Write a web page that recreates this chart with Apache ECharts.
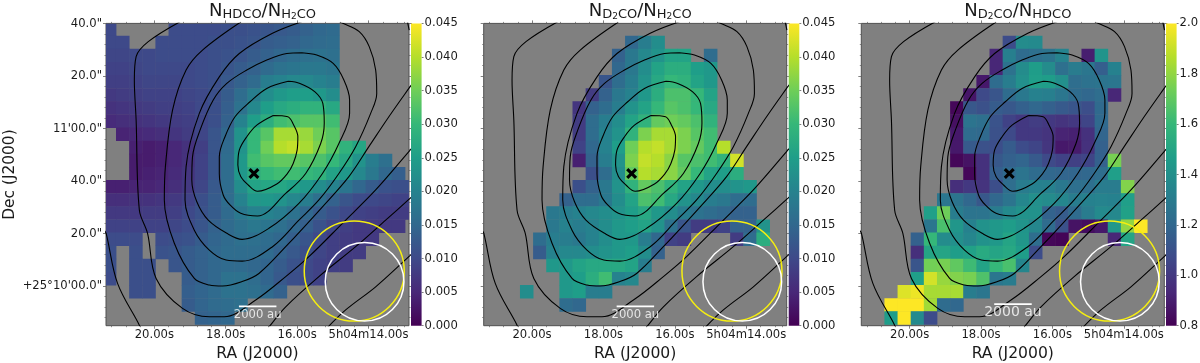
<!DOCTYPE html>
<html>
<head>
<meta charset="utf-8">
<style>html,body{margin:0;padding:0;background:#fff}#c{width:1200px;height:363px;filter:blur(0.35px)}</style>
<script src="https://cdn.jsdelivr.net/npm/echarts@6/dist/echarts.min.js"></script>
</head>
<body>
<div id="c"></div>
<script>
const _ = null;
const g = n => Array(n).fill(null);

// Column density ratios, row by row from the top of the map (first two in units of 1e-3)
const hdcoOverH2co = [
 [10,_,_,_,_,10.5,10.5,10.5,10.5,11,11,11.5,12,12.5,13,14,15,15.5],
 [10,10,_,_,10.5,10.5,10.5,10.5,11,11,11.5,12,13,13.5,14,15,15.5,16],
 [9.5,9.5,10,10,10.5,10.5,10.5,10.5,11,11.5,12,13,14,15,16,16.5,17,16.5],
 [9,9,9.5,10,10,10,10,10.5,11,12,13,14,15.5,17,17.5,18,18,17.5],
 [8.5,8.5,9,9.5,9.5,9.5,10,10.5,11,12.5,14,15.5,19,20,21,21,20,19],
 [7.5,8,8.5,9,9,9,9.5,10,11,13,16,19,22,24,25,25,24,22],
 [6.5,7,7.5,8,8.5,8.5,9,10,11,13.5,17,21,25,27,28,29,29,27],
 [5.5,6,6.5,7,7.5,8,8.5,9.5,11,14,20,25,28,31,32,33,33,31],
 [_,4.5,5,5.5,6,7,8,9.5,12,15,23,30,33,39,39,38,35,33],
 [_,_,4,3.5,4,5,6.5,8.5,12,15.5,23,30,35,40,41,39,36,33,29,26.5],
 [_,_,3.5,3.5,4,5,6.5,9,12,16,24,31,33,34,34,33,32,30,27,23,19,16.5],
 [_,_,3.5,4,4.5,5.5,7,9,12,16,24,28,30,31,31,30,29,26,24,21,18,15,13.5],
 [4,4,4.5,4.5,5,6,7.5,9.5,12.5,16,22,26,26.5,26.5,25.5,24,22,20,17.5,15,13,11.5,11,11],
 [6,6,6.5,6.5,7,7.5,9,11,13,16,20,24,24,23,21,19,16.5,14,12,10.5,10,9.5,9,9],
 [7.5,7.5,7.5,8,8,8.5,10,11.5,13,15.5,18,20,20,19,17,15,13,11.5,10,9,8.5,8,8,8],
 [9,9,9,9,9,9.5,10.5,12,14,15.5,17,18,17.5,16.5,15,13.5,11.5,9.5,8.5,7.5,7.5,7.5,7.5],
 [10.5,10.5,10.5,_,10.5,11,11.5,13,14.5,15.5,16.5,16.5,16,15,13.5,12,10,8.5,8,7.5,7.5],
 [11,_,11,_,11.5,12,13,14,15,16,16,16,15.5,14,12.5,11,9.5,8.5,8,8],
 [11,_,11,11,_,12,13,14,15,15.5,15.5,15,14.5,13,11.5,10,9,8.5,8],
 [10.5,_,11,11,_,_,13,14,15,17,17,16,14.5,12.5,11,10,9],
 [_,_,11,11,_,_,13.5,14.5,15.5,17,17,16.5,15.5,14],
 [_,_,_,_,_,_,13,14.5,15.5,16,16.5],
 [_,_,_,_,_,_,_,14,14.5,15]
];
const d2coOverH2co = [
 [],
 [...g(11),15,19,22],
 [...g(10),14,18,21,23,26,26,_,16],
 [...g(10),15,18,22,26,28,28,25,24],
 [...g(9),12,16,19,23,27,30,29,26,24],
 [...g(8),8,14,18,20,24,28,32,32,30,26],
 [...g(7),7,14,16,19,23,26,30,33,32,30,27],
 [...g(7),8,16,19,22,26,29,34,35,34,32,29],
 [...g(7),8,16,20,23,29,36,39,39,36,33,31],
 [...g(7),9,15,20,25,35,40,41,39,36,34,31,40],
 [...g(7),4,14,19,23,36,41,40,37,33,32,31,29,42],
 [...g(8),11,16,22,34,40,39,37,34,30,26,25,28],
 [...g(7),11,14,18,23,29,34,32,29,26,24,22,22,23,24],
 [...g(6),14,16,16,18,22,26,32,31,27,23,21,19,18,16,16],
 [...g(5),18,19,20,21,22,23,25,27,24,22,19,17,16,15,14,14],
 [...g(5),18,20,19,20,22,24,25,26,23,17,12,8,8,9,14,14,23],
 [...g(4),16,19,19,18,20,22,24,24,19,15,9,8,_,_,_,8,16,28],
 [...g(4),13,20,21,21,22,23,24,25,22,14],
 [...g(5),24,24,26,27,27,27,26,19],
 [...g(6),24,25,28,31,20,21],
 [...g(3),22,_,_,24,25,19,19],
 [...g(6),16,15],
 []
];
const d2coOverHdco = [
 [],
 [...g(11),1.08,1.38,1.37],
 [...g(10),.93,1.32,1.22,1.24,1.26,1.34,_,.9,1.42],
 [...g(10),.93,1.25,1.38,1.46,1.38,1.24,1.3,1.27,1.16,1.33],
 [...g(9),.88,1.22,1.31,1.4,1.47,1.46,1.4,1.23,1.25,1.26,1.27],
 [...g(8),.87,1.07,1.12,1.22,1.28,1.33,1.32,1.27,1.22,1.2,1.23,.93],
 [...g(7),.82,1.13,1.1,1.15,1.13,1.17,1.2,1.17,1.14,1.12,1.09,1.21],
 [...g(7),.85,1.26,1.24,1.11,1.04,1.0,1.02,1.0,.98,1.0,1.05,1.21],
 [...g(7),.88,1.22,1.21,1.1,1.07,1.0,1.0,.98,.92,.91,.97,1.19],
 [...g(7),.88,1.14,1.1,1.09,1.15,1.08,1.05,.99,.88,.89,.97,1.17],
 [...g(7),.82,.86,.97,1.13,1.17,1.19,1.14,1.07,1.04,1.03,1.05,1.17,1.75],
 [...g(8),.82,.97,1.16,1.21,1.26,1.22,1.2,1.19,1.19,1.2,1.23,1.47],
 [...g(7),.96,1.0,.98,1.09,1.23,1.3,1.33,1.33,1.28,1.24,1.24,1.3,1.3,1.77],
 [...g(6),1.27,1.26,1.2,1.13,1.2,1.26,1.35,1.4,1.38,1.35,1.31,1.33,1.34,1.33,1.47],
 [...g(5),1.47,1.73,1.31,1.26,1.26,1.3,1.37,1.41,1.41,1.18,1.15,1.22,1.3,1.37,1.36,1.48],
 [...g(5),1.27,1.65,1.43,1.33,1.41,1.44,1.46,1.42,1.35,1.22,1.1,.86,.84,.88,1.44,1.8,2.0],
 [...g(4),1.17,1.6,1.38,1.4,1.35,1.41,1.44,1.5,1.43,1.23,.82,.81,_,_,_,.93,1.5],
 [...g(4),.96,1.5,1.5,1.46,1.48,1.53,1.5,1.52,1.46,1.08],
 [...g(4),1.12,1.74,1.75,1.7,1.62,1.49,1.6,1.65,1.35],
 [...g(4),1.47,1.92,1.81,1.77,1.75,1.66,1.27,1.3],
 [...g(3),1.94,1.97,1.84,1.84,1.84,1.31,1.27],
 [...g(2),2,2,2,1.83,1.22,1.2],
 [...g(2),1.46,2,1.37,1.08]
];

// Map geometry in axis units: RA seconds (after 5h04m) and Dec arcseconds (after +25d10m)
const raRange = [12.866, 21.354];
const decRange = [-15.1, 100.06];
const firstColRa = 21.258, colStepRa = 0.368;
const firstRowDec = 97.87, rowStepDec = 5;

const raTicks = [14, 16, 18, 20];
const raLabels = ['5h04m14.00s', '16.00s', '18.00s', '20.00s'];
const raMinor = [13,13.2,13.6,14.4,14.8,15.2,15.6,16.4,16.8,17.2,17.6,18.4,18.8,19.2,19.6,20.4,20.8,21.2];
const decTicks = [0, 20, 40, 60, 80, 100];
const decLabels = ['+25°10\'00.0"', '20.0"', '40.0"', '11\'00.0"', '20.0"', '40.0"'];
const decMinor = [-12,-8,-4,4,8,12,16,24,28,32,36,44,48,52,56,64,68,72,76,84,88,92,96];

// Integrated-intensity contours [RA s, Dec "]; same in every panel
const contours = [
 [[16.67,65.0],[16.26,64.5],[16.11,61.7],[15.98,56.9],[16.0,51.8],[16.11,46.7],[16.27,42.9],[16.57,38.9],[17.11,36.1],[17.37,38.5],[17.58,41.7],[17.66,46.1],[17.62,51.8],[17.41,56.9],[17.13,61.3],[16.67,65.0]],
 [[16.25,78.0],[15.92,77.2],[15.50,74.0],[15.28,69.6],[15.24,62.0],[15.34,54.3],[15.76,42.9],[16.32,35.3],[17.11,26.7],[17.58,27.7],[17.88,30.9],[18.07,34.7],[18.18,42.9],[18.18,49.3],[18.02,56.9],[17.74,64.5],[17.32,70.2],[16.85,75.3],[16.25,78.0]],
 [[15.87,88.9],[15.45,88.0],[14.99,84.8],[14.69,78.5],[14.53,70.9],[14.53,65.8],[14.83,54.3],[15.29,42.9],[15.95,31.5],[16.79,22.0],[17.54,17.8],[17.97,20.1],[18.49,25.1],[18.81,32.1],[18.95,40.4],[18.93,49.3],[18.72,59.4],[18.35,70.9],[17.97,77.2],[17.41,82.3],[16.85,86.1],[16.29,88.6],[15.87,88.9]],
 [[15.87,100.7],[16.69,96.3],[17.62,88.6],[18.18,79.7],[18.74,65.8],[19.11,45.5],[19.14,32.8],[18.88,21.3],[18.46,13.7],[17.99,9.9],[17.54,9.5],[16.69,15.0],[15.95,25.1],[15.39,32.8],[14.83,42.9],[14.36,53.1],[13.94,65.8],[13.77,73.4],[13.80,82.3],[13.98,91.2],[14.26,96.9],[14.72,100.1],[14.82,100.7]],
 [[17.57,100.7],[18.65,89.9],[19.11,82.3],[19.49,67.0],[19.69,45.5],[19.72,32.8],[19.44,16.3],[18.88,2.9],[18.46,0.4],[18.09,0],[17.54,1.7],[17.07,4.8],[16.32,15.0],[15.29,30.2],[14.55,41.7],[13.99,53.1],[13.43,64.5],[12.87,75.3],[12.75,77.5]],
 [[19.28,100.7],[20.17,93.1],[20.51,87.4],[20.56,78.5],[20.51,63.2],[20.42,29.0],[20.19,20.1],[19.95,2.9],[19.21,-8.5],[18.46,-11.7],[18.04,-11.7],[17.16,-5.3],[16.32,3.6],[15.67,11.2],[14.73,23.9],[13.80,36.6],[12.87,51.2],[12.75,53.1]],
 [[21.41,21.3],[21.35,20.1],[21.03,1.0],[20.42,-14.9],[20.38,-16.8]],
 [[16.85,-16.8],[16.76,-15.1],[16.32,-7.9],[15.39,3.6],[14.36,15.0],[13.52,25.1],[12.87,33.0],[12.75,34.5]],
 [[15.22,-16.8],[14.64,-9.1],[13.80,-0.3],[12.87,11.2],[12.75,12.7]],
 [[12.91,100.7],[12.86,97.5]]
];

const peakPosition = [17.21, 42.9];
const yellowBeam = [14.40, 5.7];
const whiteBeam = [14.11, 1.65];

const panels = [
 { title: '{n|N}{s|HDCO}{n|/N}{s|H}{t|2}{s|CO}', rows: hdcoOverH2co, scale: 1e-3, min: 0, max: 0.045, step: 0.005, digits: 3,
   left: 106, barLeft: 411, bar: [17.63, 16.58, -7.75], au: [17.105, -10.9], auSize: 11.6 },
 { title: '{n|N}{s|D}{t|2}{s|CO}{n|/N}{s|H}{t|2}{s|CO}', rows: d2coOverH2co, scale: 1e-3, min: 0, max: 0.045, step: 0.005, digits: 3,
   left: 483.7, barLeft: 788.7, bar: [17.63, 16.58, -7.75], au: [17.105, -10.9], auSize: 11.6 },
 { title: '{n|N}{s|D}{t|2}{s|CO}{n|/N}{s|HDCO}', rows: d2coOverHdco, scale: 1, min: 0.8, max: 2, step: 0.2, digits: 1,
   left: 861.3, barLeft: 1166, bar: [17.63, 16.58, -6.9], au: [17.105, -10.0], auSize: 14 }
];

const viridis = ['#440154','#482878','#3e4989','#31688e','#26828e','#1f9e89','#35b779','#6ece58','#b5de2b','#fde725'];
const FONT = 'DejaVu Sans', INK = '#1a1a1a', TICK = '#606060';
const PLOT_TOP = 23.4, PLOT_W = 303, PLOT_H = 302.3, BAR_W = 10.6;

const option = { animation: false, title: [], grid: [], xAxis: [], yAxis: [], visualMap: [], series: [] };

function tickAxis(base, values, len, width) {
  return Object.assign({
    type: 'value', axisLine: { show: false, onZero: false }, splitLine: { show: false },
    axisTick: { show: true, length: len, customValues: values, lineStyle: { color: TICK, width: width } },
    axisLabel: { show: false }
  }, base);
}

panels.forEach((p, pi) => {
  const gi = option.grid.length;
  option.grid.push({ left: p.left, top: PLOT_TOP, width: PLOT_W, height: PLOT_H, outerBoundsMode: 'none', containLabel: false, show: true, backgroundColor: '#808080', borderColor: '#505050', borderWidth: 1, z: 0 });
  option.title.push({
    text: p.title, left: p.left + PLOT_W / 2, top: -4, textAlign: 'center',
    textStyle: { rich: {
      n: { fontFamily: FONT, fontSize: 18, fontWeight: 'normal', color: INK, lineHeight: 20 },
      s: { fontFamily: FONT, fontSize: 13, fontWeight: 'normal', color: INK, lineHeight: 20, padding: [8, 0, 0, 0] },
      t: { fontFamily: FONT, fontSize: 9, fontWeight: 'normal', color: INK, lineHeight: 20, padding: [11, 0, 0, 0] }
    } }
  });

  const xi = option.xAxis.length, yi = option.yAxis.length;
  const xBase = { gridIndex: gi, min: raRange[0], max: raRange[1], inverse: true };
  const yBase = { gridIndex: gi, min: decRange[0], max: decRange[1] };
  // main axes carrying the marks, tick labels and titles
  option.xAxis.push(Object.assign(tickAxis(xBase, raTicks, 3, 0.8), {
    position: 'bottom', name: 'RA (J2000)', nameLocation: 'middle', nameGap: 15,
    nameTextStyle: { fontFamily: FONT, fontSize: 15.6, color: INK },
    axisLabel: { show: true, customValues: raTicks, margin: 3, fontFamily: FONT, fontSize: 11.6, color: INK, hideOverlap: false,
      formatter: v => raLabels[raTicks.indexOf(+v)] }
  }));
  option.yAxis.push(Object.assign(tickAxis(yBase, decTicks, 3, 0.8), { position: 'left' },
    pi === 0 ? {
      name: 'Dec (J2000)', nameLocation: 'middle', nameGap: 89, nameRotate: 90,
      nameTextStyle: { fontFamily: FONT, fontSize: 15.4, color: INK },
      axisLabel: { show: true, customValues: decTicks, margin: 4, fontFamily: FONT, fontSize: 11.6, color: INK, hideOverlap: false,
        formatter: v => decLabels[decTicks.indexOf(+v)] }
    } : {}));
  // tick-only axes on the other sides and for minor ticks
  option.xAxis.push(tickAxis(Object.assign({ position: 'bottom' }, xBase), raMinor, 1.5, 0.7));
  option.xAxis.push(tickAxis(Object.assign({ position: 'top' }, xBase), raTicks, 3, 0.8));
  option.xAxis.push(tickAxis(Object.assign({ position: 'top' }, xBase), raMinor, 1.5, 0.7));
  option.yAxis.push(tickAxis(Object.assign({ position: 'left' }, yBase), decMinor, 1.5, 0.7));
  option.yAxis.push(tickAxis(Object.assign({ position: 'right' }, yBase), decTicks, 3, 0.8));
  option.yAxis.push(tickAxis(Object.assign({ position: 'right' }, yBase), decMinor, 1.5, 0.7));

  const cells = [];
  p.rows.forEach((row, r) => row.forEach((v, c) => {
    if (v != null) cells.push([firstColRa - colStepRa * c, firstRowDec - rowStepDec * r, v * p.scale]);
  }));
  const on = { xAxisIndex: xi, yAxisIndex: yi };
  option.visualMap.push({ show: false, type: 'continuous', seriesIndex: option.series.length, dimension: 2, min: p.min, max: p.max, inRange: { color: viridis } });
  option.series.push(Object.assign({
    type: 'custom', coordinateSystem: 'cartesian2d', clip: true, z: 1, silent: true,
    encode: { x: 0, y: 1 }, data: cells,
    renderItem: (params, api) => {
      const c = api.coord([api.value(0), api.value(1)]);
      const s = api.size([colStepRa, rowStepDec]);
      const shape = echarts.graphic.clipRectByRect(
        { x: c[0] - s[0] / 2, y: c[1] - s[1] / 2, width: s[0] + 0.4, height: s[1] + 0.4 },
        { x: params.coordSys.x, y: params.coordSys.y, width: params.coordSys.width, height: params.coordSys.height });
      return shape && { type: 'rect', shape, style: { fill: api.visual('color') } };
    }
  }, on));
  contours.forEach(line => option.series.push(Object.assign({
    type: 'line', data: line, symbol: 'none', smooth: 0.35, clip: true, z: 3, silent: true,
    lineStyle: { color: '#000', width: 1.1 }
  }, on)));
  option.series.push(Object.assign({
    type: 'line', data: [[p.bar[0], p.bar[2]], [p.bar[1], p.bar[2]]], symbol: 'none', z: 4, silent: true,
    lineStyle: { color: '#fff', width: 1.6 }
  }, on));
  option.series.push(Object.assign({
    type: 'scatter', data: [p.au], symbolSize: 0, z: 5, silent: true,
    label: { show: true, position: 'inside', formatter: '2000 au', color: '#fff', fontFamily: FONT, fontSize: p.auSize }
  }, on));
  [[yellowBeam, '#f5ee10', 100], [whiteBeam, '#ffffff', 78.7]].forEach(([pos, col, d]) => option.series.push(Object.assign({
    type: 'scatter', data: [pos], symbol: 'circle', symbolSize: d, z: 6, silent: true,
    itemStyle: { color: 'rgba(0,0,0,0)', borderColor: col, borderWidth: 1.5, opacity: 1 }
  }, on)));
  option.series.push(Object.assign({
    type: 'scatter', data: [peakPosition], z: 7, silent: true, symbolSize: 11,
    symbol: 'path://M2 0L5 3 8 0 10 2 7 5 10 8 8 10 5 7 2 10 0 8 3 5 0 2Z',
    itemStyle: { color: '#000', opacity: 1 }
  }, on));

  // colour bar: one bar on its own scale, filled with the colour map
  const bgi = option.grid.length;
  option.grid.push({ left: p.barLeft, top: PLOT_TOP, width: BAR_W, height: PLOT_H, outerBoundsMode: 'none', containLabel: false, show: false });
  const bxi = option.xAxis.length, byi = option.yAxis.length;
  option.xAxis.push({ gridIndex: bgi, type: 'category', data: ['bar'], show: false });
  option.yAxis.push({
    gridIndex: bgi, type: 'value', position: 'right', min: p.min, max: p.max, interval: p.step,
    axisLine: { show: false }, splitLine: { show: false },
    axisTick: { show: true, length: 2, lineStyle: { color: TICK, width: 0.8 } },
    axisLabel: { margin: 3, fontFamily: FONT, fontSize: 11.6, color: INK, formatter: v => (+v).toFixed(p.digits) }
  });
  option.series.push({
    type: 'bar', xAxisIndex: bxi, yAxisIndex: byi, data: [p.max], barWidth: '100%', silent: true,
    itemStyle: { color: new echarts.graphic.LinearGradient(0, 1, 0, 0, viridis.map((c, i) => ({ offset: i / (viridis.length - 1), color: c }))) }
  });
});

echarts.init(document.getElementById('c')).setOption(option);
</script>
</body>
</html>
